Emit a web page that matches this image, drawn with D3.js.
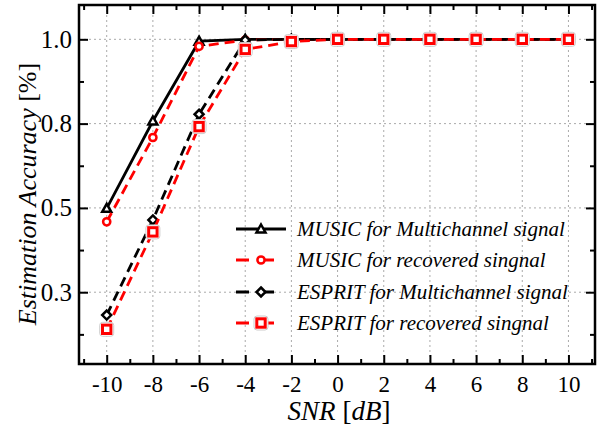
<!DOCTYPE html>
<html>
<head>
<meta charset="utf-8">
<script src="https://cdn.jsdelivr.net/npm/d3@7"></script>
<style>
  body { margin: 0; background: #fff; }
  svg { display: block; }
  text { font-family: "Liberation Serif", "Times New Roman", serif; fill: #000; }
  .grid line { stroke: #aaa; stroke-width: 1; stroke-dasharray: 2,3; }
</style>
</head>
<body>
<div id="chart"></div>
<script>
// SNR values (dB)
var snr = [-10, -8, -6, -4, -2, 0, 2, 4, 6, 8, 10];

// estimation accuracy (in axis units)
var musicMulti  = [0.549, 0.782, 0.995, 1.000, 1.000, 1.000, 1.000, 1.000, 1.000, 1.000, 1.000];
var musicRec    = [0.513, 0.738, 0.981, 0.998, 1.000, 1.000, 1.000, 1.000, 1.000, 1.000, 1.000];
var espritMulti = [0.264, 0.518, 0.800, 0.998, 1.000, 1.000, 1.000, 1.000, 1.000, 1.000, 1.000];
var espritRec   = [0.226, 0.486, 0.767, 0.973, 0.994, 1.000, 1.000, 1.000, 1.000, 1.000, 1.000];

var seriesNames = ["MUSIC for Multichannel signal", "MUSIC for recovered singnal",
                   "ESPRIT for Multichannel signal", "ESPRIT for recovered singnal"];

// ticks
var xTicks = [-10, -8, -6, -4, -2, 0, 2, 4, 6, 8, 10];
var xMinorTicks = [-11, -9, -7, -5, -3, -1, 1, 3, 5, 7, 9, 11];
var yTicks = [0.325, 0.55, 0.775, 1.0];
var yTickLabels = ["0.3", "0.5", "0.8", "1.0"];
var yMinorTicks = [0.2125, 0.4375, 0.6625, 0.8875];

var width = 608, height = 432;
var plot = {left: 79, right: 595, top: 5, bottom: 364};

var svg = d3.select('#chart').append('svg')
  .attr('width', width)
  .attr('height', height);

var x = d3.scaleLinear().domain([-11.2, 11.15]).range([plot.left, plot.right]);
var y = d3.scaleLinear().domain([0.1334, 1.0916]).range([plot.bottom, plot.top]);

//grid lines
var grid = svg.append('g').classed('grid', true);
grid.selectAll('line.gx').data(xTicks).enter().append('line')
  .attr('x1', function (d) { return x(d); }).attr('x2', function (d) { return x(d); })
  .attr('y1', plot.top).attr('y2', plot.bottom);
grid.selectAll('line.gy').data(yTicks).enter().append('line')
  .attr('x1', plot.left).attr('x2', plot.right)
  .attr('y1', function (d) { return y(d); }).attr('y2', function (d) { return y(d); });

// axes with inward ticks
function styleAxis(g) {
  g.attr('font-family', null);
  g.select('.domain').remove();
  g.selectAll('.tick line').attr('stroke', '#000').attr('stroke-width', 2);
}

svg.append('g').attr('transform', 'translate(0,' + plot.bottom + ')')
  .call(d3.axisBottom(x).tickValues(xTicks).tickSizeInner(-9).tickPadding(12)
    .tickFormat(function (d) { return String(d); }))
  .call(styleAxis)
  .selectAll('.tick text').style('font-size', '23px');

svg.append('g').attr('transform', 'translate(0,' + plot.bottom + ')')
  .call(d3.axisBottom(x).tickValues(xMinorTicks).tickSize(-5).tickFormat(''))
  .call(styleAxis);
svg.append('g').attr('transform', 'translate(0,' + plot.top + ')')
  .call(d3.axisTop(x).tickValues(xTicks).tickSize(-9).tickFormat(''))
  .call(styleAxis);
svg.append('g').attr('transform', 'translate(0,' + plot.top + ')')
  .call(d3.axisTop(x).tickValues(xMinorTicks).tickSize(-5).tickFormat(''))
  .call(styleAxis);

svg.append('g').attr('transform', 'translate(' + plot.left + ',0)')
  .call(d3.axisLeft(y).tickValues(yTicks).tickSizeInner(-9).tickPadding(7)
    .tickFormat(function (d, i) { return yTickLabels[i]; }))
  .call(styleAxis)
  .selectAll('.tick text').style('font-size', '25px');
svg.append('g').attr('transform', 'translate(' + plot.left + ',0)')
  .call(d3.axisLeft(y).tickValues(yMinorTicks).tickSize(-5).tickFormat(''))
  .call(styleAxis);
svg.append('g').attr('transform', 'translate(' + plot.right + ',0)')
  .call(d3.axisRight(y).tickValues(yTicks).tickSize(-9).tickFormat(''))
  .call(styleAxis);
svg.append('g').attr('transform', 'translate(' + plot.right + ',0)')
  .call(d3.axisRight(y).tickValues(yMinorTicks).tickSize(-5).tickFormat(''))
  .call(styleAxis);

// frame
svg.append('rect')
  .attr('x', plot.left).attr('y', plot.top)
  .attr('width', plot.right - plot.left).attr('height', plot.bottom - plot.top)
  .attr('fill', 'none').attr('stroke', '#000').attr('stroke-width', 2.5);

// series styles
var series = [
  {name: seriesNames[0], values: musicMulti,  color: '#000', dash: null,   marker: 'triangle'},
  {name: seriesNames[1], values: musicRec,    color: '#f00', dash: '10,6', marker: 'circle'},
  {name: seriesNames[2], values: espritMulti, color: '#000', dash: '10,6', marker: 'diamond'},
  {name: seriesNames[3], values: espritRec,   color: '#f00', dash: '10,6', marker: 'square'}
];

var line = d3.line()
  .x(function (d) { return x(d[0]); })
  .y(function (d) { return y(d[1]); });

function addMarker(g, type, color, cx, cy) {
  if (type === 'triangle') {
    g.append('path').attr('d', 'M' + cx + ',' + (cy - 4.5) + ' L' + (cx + 4.5) + ',' + (cy + 3.5) + ' L' + (cx - 4.5) + ',' + (cy + 3.5) + ' z')
      .attr('fill', '#fff').attr('stroke', color).attr('stroke-width', 2.5);
  } else if (type === 'circle') {
    g.append('circle').attr('cx', cx).attr('cy', cy).attr('r', 3.6)
      .attr('fill', '#fff').attr('stroke', color).attr('stroke-width', 2.5);
  } else if (type === 'diamond') {
    g.append('path').attr('d', 'M' + cx + ',' + (cy - 4.5) + ' L' + (cx + 4.5) + ',' + cy + ' L' + cx + ',' + (cy + 4.5) + ' L' + (cx - 4.5) + ',' + cy + ' z')
      .attr('fill', '#fff').attr('stroke', color).attr('stroke-width', 2.5);
  } else if (type === 'square') {
    g.append('rect').attr('x', cx - 7).attr('y', cy - 7).attr('width', 14).attr('height', 14).attr('rx', 3)
      .attr('fill', '#fff').attr('stroke', '#ccc').attr('stroke-width', 1);
    g.append('rect').attr('x', cx - 4.2).attr('y', cy - 4.2).attr('width', 8.4).attr('height', 8.4)
      .attr('fill', '#fff').attr('stroke', color).attr('stroke-width', 3);
  }
}

series.forEach(function (s) {
  var pts = snr.map(function (d, i) { return [d, s.values[i]]; });
  var g = svg.append('g');
  g.append('path').datum(pts)
    .attr('d', line)
    .attr('fill', 'none')
    .attr('stroke', s.color)
    .attr('stroke-width', 2.8)
    .attr('stroke-dasharray', s.dash);
  pts.forEach(function (p) { addMarker(g, s.marker, s.color, x(p[0]), y(p[1])); });
});

// legend
var legend = svg.append('g');
var legendRows = [229, 260, 292, 323];
series.forEach(function (s, i) {
  var ly = legendRows[i];
  legend.append('line')
    .attr('x1', 236).attr('x2', 286).attr('y1', ly).attr('y2', ly)
    .attr('stroke', s.color).attr('stroke-width', 2.8)
    .attr('stroke-dasharray', s.dash ? '13,12' : null);
  addMarker(legend, s.marker, s.color, 261, ly);
  legend.append('text')
    .attr('x', 297).attr('y', ly + 7)
    .style('font-size', '21px').style('font-style', 'italic')
    .text(s.name);
});

// axis titles
var xt = svg.append('text')
  .attr('x', 339).attr('y', 420)
  .attr('text-anchor', 'middle')
  .style('font-size', '27px');
xt.append('tspan').style('font-style', 'italic').text('SNR');
xt.append('tspan').text(' [');
xt.append('tspan').style('font-style', 'italic').text('dB');
xt.append('tspan').text(']');

var yt = svg.append('text')
  .attr('transform', 'translate(36,194) rotate(-90)')
  .attr('text-anchor', 'middle')
  .style('font-size', '26px');
yt.append('tspan').style('font-style', 'italic').text('Estimation Accuracy');
yt.append('tspan').text(' [%]');
</script>
</body>
</html>
